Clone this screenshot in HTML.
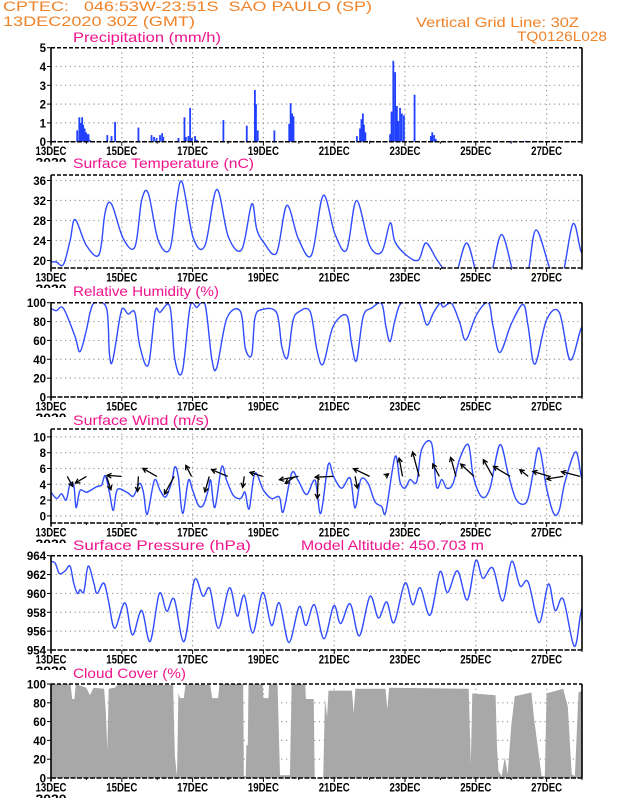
<!DOCTYPE html>
<html><head><meta charset="utf-8">
<style>
html,body{margin:0;padding:0;background:#fff;}
svg{display:block;}
text{font-family:"Liberation Sans",sans-serif;white-space:pre;}
.hdr{fill:#f08228;font-size:13.5px;}
.ttl{fill:#f0148c;font-size:14px;}
.tk{fill:#000;font-size:11.5px;font-weight:bold;}
</style></head>
<body>
<svg id="chart" width="618" height="800" viewBox="0 0 618 800" xmlns="http://www.w3.org/2000/svg">
<text class="hdr" x="3" y="11" xml:space="preserve" textLength="369" lengthAdjust="spacingAndGlyphs">CPTEC:   046:53W-23:51S  SAO PAULO (SP)</text>
<text class="hdr" x="3" y="26" textLength="192" lengthAdjust="spacingAndGlyphs">13DEC2020 30Z (GMT)</text>
<text class="hdr" x="416" y="27" textLength="163" lengthAdjust="spacingAndGlyphs">Vertical Grid Line: 30Z</text>
<text class="hdr" x="517" y="41" textLength="90" lengthAdjust="spacingAndGlyphs">TQ0126L028</text>
<text class="ttl" x="73" y="42" textLength="148" lengthAdjust="spacingAndGlyphs">Precipitation (mm/h)</text>
<text class="ttl" x="73" y="168" textLength="181" lengthAdjust="spacingAndGlyphs">Surface Temperature (nC)</text>
<text class="ttl" x="73" y="296" textLength="146" lengthAdjust="spacingAndGlyphs">Relative Humidity (%)</text>
<text class="ttl" x="73" y="425" textLength="136" lengthAdjust="spacingAndGlyphs">Surface Wind (m/s)</text>
<text class="ttl" x="73" y="550" textLength="178" lengthAdjust="spacingAndGlyphs">Surface Pressure (hPa)</text>
<text class="ttl" x="301" y="550" textLength="183" lengthAdjust="spacingAndGlyphs">Model Altitude: 450.703 m</text>
<text class="ttl" x="73" y="678" textLength="113" lengthAdjust="spacingAndGlyphs">Cloud Cover (%)</text>
</svg>
<script>
// ---- data (time in days since 13DEC 00Z) ----
const dayLabels = ["13DEC","15DEC","17DEC","19DEC","21DEC","23DEC","25DEC","27DEC"];
const precipDays = [0.74,0.80,0.84,0.88,0.91,0.95,0.99,1.03,1.06,1.10,1.59,1.71,1.81,2.09,2.47,2.84,2.91,2.98,3.08,3.14,3.17,3.60,3.77,3.81,3.88,3.93,3.98,4.07,4.12,4.87,5.53,5.76,5.79,5.84,6.31,6.73,6.77,6.81,6.85,8.64,8.73,8.77,8.81,8.84,8.88,9.01,9.58,9.62,9.67,9.72,9.77,9.81,9.86,9.91,9.97,10.27,10.73,10.77,10.82,10.87,0.1,0.5,12.2,12.6,13.0,13.4,13.8];
const precipVals = [0.6,1.3,1.0,1.3,0.9,0.7,0.5,0.4,0.4,0.1,0.35,0.3,1.05,0.05,0.75,0.35,0.25,0.2,0.35,0.45,0.25,0.2,1.3,0.25,0.3,1.8,0.2,0.3,0.1,1.15,0.85,2.75,2.0,0.6,0.6,0.95,2.05,1.5,1.35,0.3,0.7,1.2,1.5,0.9,0.5,0.05,0.4,1.6,4.3,3.7,1.9,1.1,1.8,1.5,1.4,2.5,0.3,0.5,0.35,0.15,0.06,0.04,0.04,0.05,0.04,0.05,0.04];
const tempDays = [0,0.15,0.35,0.54,0.68,1.0,1.36,1.53,1.71,2.04,2.37,2.56,2.75,3.03,3.36,3.55,3.71,4.02,4.35,4.68,5.01,5.39,5.67,5.81,6.0,6.37,6.66,6.99,7.36,7.69,8.02,8.35,8.63,9.0,9.34,9.58,9.72,10.05,10.38,10.59,10.89,11.16,11.41,11.74,12.07,12.4,12.73,13.11,13.44,13.7,14.14,14.43,14.74,14.96,15.1];
const tempVals = [19.7,19.7,19.2,24,28.2,23,21.2,29.7,31.3,24.4,22.7,32,33.4,24,22.3,32,35.6,24.5,23,34.2,24.7,22.2,31.3,26.3,23.7,21.5,31,24.3,21.1,33,25.3,22.1,32,23,21.7,27.5,23.7,21,20.1,23.5,20.3,17.6,16.5,23.5,16.5,16.5,25.2,16.5,16.5,26.1,17.5,16.5,27.3,22.1,20];
const rhDays = [0,0.15,0.35,0.68,0.82,1.0,1.11,1.24,1.57,1.65,1.74,1.95,2.04,2.18,2.37,2.51,2.75,2.94,3.08,3.36,3.5,3.71,3.93,4.12,4.35,4.54,4.68,4.97,5.35,5.49,5.67,5.76,5.95,6.37,6.52,6.68,6.83,6.99,7.32,7.51,7.69,7.97,8.35,8.49,8.63,8.82,9.06,9.34,9.46,9.58,9.72,9.91,10.38,10.61,10.8,10.99,11.08,11.32,11.55,11.72,12.02,12.35,12.49,12.68,13.01,13.34,13.48,13.67,14.0,14.36,14.66,14.96,15.1];
const rhVals = [94,91.5,94,64,48,71,90.5,100,94,46,38.4,85,94,88,89.4,53.5,34,90.5,89.8,95.8,39.4,27,95.8,95,98.6,41,31,83.7,90.8,51.8,44.7,83.7,92.6,89.7,53.5,41.8,80,90,90.8,50,35,74.8,86.5,57,38.7,85.5,94.3,99,74.8,58.9,81.9,100,100,76.6,89,99.6,95.4,99,78.4,60.6,87.2,100,74.8,47.2,78.4,98.2,74.8,34.8,81.9,89.7,39.4,71.3,80];
const windDays = [0,0.16,0.3,0.43,0.54,0.65,0.71,0.82,1.01,1.29,1.43,1.53,1.65,1.76,1.87,2.14,2.33,2.5,2.61,2.72,2.92,3.08,3.24,3.41,3.5,3.6,3.72,3.88,4.0,4.16,4.3,4.44,4.51,4.63,4.82,4.96,5.15,5.36,5.48,5.6,5.76,6.0,6.23,6.45,6.56,6.8,6.98,7.22,7.46,7.62,7.83,7.98,8.21,8.45,8.59,8.75,8.96,9.15,9.34,9.46,9.72,9.86,10.0,10.14,10.33,10.47,10.75,10.89,11.04,11.18,11.36,11.55,11.79,11.93,12.17,12.4,12.68,12.92,13.15,13.44,13.62,13.79,14.0,14.2,14.36,14.52,14.82,14.99,15.1];
const windVals = [3.0,2.2,2.8,2.0,4.1,3.7,1.05,3.2,3.0,3.7,3.9,5.1,3.0,0.7,3.3,3.0,2.5,4.1,3.0,0.2,4.5,3.25,2.4,4.3,6.2,4.9,0.3,4.5,3.25,1.35,1.35,3.25,4.5,1.05,6.2,4.5,2.6,2.2,3.0,0.9,5.4,3.25,2.2,2.4,0.5,5.4,4.5,2.7,4.5,0.3,6.5,5.0,3.5,4.8,1.0,4.6,4.1,1.8,1.2,0.55,7.5,4.3,3.5,4.6,4.3,8.4,9.2,3.7,4.6,3.5,4.1,7.3,9.0,5.0,2.4,3.5,9.0,5.2,2.0,1.8,5.4,8.6,3.5,0.3,0.75,4.3,8.1,4.8,4.5];
const arrowDays = [0.46,1.0,1.57,1.99,2.47,2.99,3.48,3.97,4.47,4.99,5.46,5.98,6.9,6.99,7.55,7.97,8.59,9.0,9.44,9.93,10.4,10.97,11.44,11.95,12.48,12.97,13.48,14.08,14.47,14.94];
const arrowU = [1.35,-2.75,1.08,-3.6,-0.25,-3.5,-2.43,-1.43,-1.08,-4,-0.4,-3.18,-2.5,-4.75,-0.25,-4.5,0.58,-4,0.83,-0.85,-1.65,-1.65,-1.33,-3.33,-2.35,-4.18,-2.08,-4.15,-4.15,-4.58];
const arrowV = [-2.5,-1.65,-3.33,0.25,-3.75,2,-4.43,2.75,-3.9,1.68,-2.75,1,-1.75,-0.83,-5.5,-0.2,-2.93,1.93,0.65,4.58,6.1,3.1,4.75,3.1,4.18,2.5,1.68,1.25,-0.65,1.18];
const presDays = [0,0.12,0.24,0.4,0.54,0.64,0.75,0.82,0.93,1.05,1.21,1.3,1.49,1.62,1.8,2.09,2.3,2.56,2.8,3.06,3.27,3.48,3.76,4.05,4.29,4.49,4.73,5.04,5.26,5.46,5.7,5.98,6.23,6.45,6.72,7.01,7.2,7.44,7.71,7.99,8.18,8.45,8.71,9.01,9.25,9.48,9.69,10.0,10.22,10.43,10.71,10.99,11.2,11.48,11.76,12.0,12.2,12.48,12.76,13.01,13.25,13.48,13.79,14.05,14.24,14.47,14.78,14.96,15.1];
const presVals = [963.4,963.2,962.1,962.4,962.9,961.1,960,960.4,960.2,962.9,961.1,960,961.1,959.3,956.3,959,955.6,958.2,954.9,960,958.1,959.4,954.9,961.4,959.7,960.5,956.3,960.6,957.6,959.8,955.8,960.1,956.6,959,954.8,958.6,956.6,958.8,955.2,958.7,956.8,958.9,955.5,959.7,957.4,959.1,956.9,961.1,958.8,960.6,957.7,962.3,960.1,962.4,959.3,963.5,961.6,962.7,959.2,963.4,960.8,961.2,956.9,961,958.2,959.4,954.4,957.8,960];
const cloudDays = [0,0.55,0.6,0.66,0.7,1.0,1.1,1.2,1.5,1.55,1.59,1.63,1.8,1.9,3.45,3.5,3.56,3.6,3.65,3.75,3.8,4.5,4.55,4.72,4.76,5.43,5.45,5.5,5.52,5.56,5.58,5.98,6.0,6.14,6.16,6.4,6.42,6.47,6.75,6.8,7.18,7.2,7.42,7.45,7.69,7.74,7.8,7.84,8.5,8.55,8.6,9.45,9.5,9.55,11.8,11.86,11.9,12.56,12.6,12.64,12.73,12.82,12.9,13.0,13.1,13.57,13.65,13.86,13.95,14.0,14.47,14.6,14.71,14.8,14.9,15.1];
const cloudVals = [100,100,84,84,100,96,88,96,95,69,30,95,96,100,99,23,2,90,85,85,100,99,85,85,100,100,2,2,35,35,100,100,85,85,100,99,69,3,3,100,100,84,84,0,0,84,65,93,93,69,95,95,73,96,95,15,90,88,33,7,2,22,4,55,87,91,62,2,2,90,95,76,4,2,91,95];

// ---- layout ----
const NS = "http://www.w3.org/2000/svg";
const svg = document.getElementById("chart");
const X0 = 51, X1 = 582, DAYS = 15;
const xs = d => X0 + d * (X1 - X0) / DAYS;
function mk(tag, attrs, parent) {
  const e = document.createElementNS(NS, tag);
  for (const k in attrs) e.setAttribute(k, attrs[k]);
  (parent || svg).appendChild(e);
  return e;
}
const panels = [
  {id:"precip", top:47.7, bot:141.7, min:0, max:5, ticks:[0,1,2,3,4,5]},
  {id:"temp", top:175, bot:268, min:18.5, max:37.1, ticks:[20,24,28,32,36]},
  {id:"rh", top:302.7, bot:397, min:0, max:100, ticks:[0,20,40,60,80,100]},
  {id:"wind", top:429, bot:523, min:-0.9, max:11.0, ticks:[0,2,4,6,8,10]},
  {id:"pressure", top:555.7, bot:650, min:954, max:964, ticks:[954,956,958,960,962,964]},
  {id:"cloud", top:684, bot:778, min:0, max:100, ticks:[0,20,40,60,80,100]}
];
panels.forEach(p => { p.ys = v => p.bot - (v - p.min) * (p.bot - p.top) / (p.max - p.min); });

function drawFrame(p) {
  const g = mk("g", {});
  
  
  const cp = mk("clipPath", {id:"clip-" + p.id}, g);
  mk("rect", {x:X0, y:p.top, width:X1 - X0, height:p.bot - p.top}, cp);
  for (let d = 2; d < DAYS; d += 2) {
    const gl = mk("line", {x1:xs(d), x2:xs(d), y1:p.top, y2:p.bot, stroke:"#999", "stroke-width":1.2, "stroke-dasharray":"1.2 3.5"}, g);
    
    
  }
  p.ticks.forEach(t => {
    const y = p.ys(t);
    if (y > p.top + 1 && y < p.bot - 1) {
      const hl = mk("line", {x1:X0, x2:X1, y1:y, y2:y, stroke:"#999", "stroke-width":1.2, "stroke-dasharray":"1.2 3.5"}, g);
      
      
    }
    mk("line", {x1:X0 - 4, x2:X0, y1:y, y2:y, stroke:"#000", "stroke-width":1}, g);
    const tl = mk("text", {x:X0 - 5, y:y + 4.5, "text-anchor":"end", class:"tk", "font-size":"12.5px"}, g);
    tl.textContent = String(t);
    
    
  });
  return g;
}
function drawBorders(p) {
  const g = mk("g", {});
  
  
  mk("line", {x1:X0, x2:X1, y1:p.top, y2:p.top, stroke:"#000", "stroke-width":1.5, "stroke-dasharray":"4 2"}, g);
  mk("line", {x1:X0, x2:X1, y1:p.bot, y2:p.bot, stroke:"#000", "stroke-width":1.5, "stroke-dasharray":"5 1.5"}, g);
  mk("line", {x1:X0, x2:X0, y1:p.top, y2:p.bot + 3, stroke:"#000", "stroke-width":1.6}, g);
  mk("line", {x1:X1, x2:X1, y1:p.top, y2:p.bot, stroke:"#000", "stroke-width":1.6}, g);
  for (let d = 0; d <= DAYS; d++) {
    mk("line", {x1:xs(d), x2:xs(d), y1:p.bot, y2:p.bot + (d % 2 ? 2 : 4), stroke:"#000", "stroke-width":1}, g);
  }
  dayLabels.forEach((lab, i) => {
    const t = mk("text", {x:xs(i * 2) - 15.5, y:p.bot + 13.5, class:"tk", textLength:31, lengthAdjust:"spacingAndGlyphs"}, g);
    t.textContent = lab;
    
    
  });
  const cpy = mk("clipPath", {id:"yr-" + p.id}, g);
  mk("rect", {x:30, y:p.bot + 16, width:40, height:4}, cpy);
  const yr = mk("text", {x:xs(0) - 15.5, y:p.bot + 25, class:"tk", textLength:31, lengthAdjust:"spacingAndGlyphs", "clip-path":"url(#yr-" + p.id + ")"}, g);
  yr.textContent = "2020";
  
  
}
function smoothPath(days, vals, p) {
  const P = days.map((d, i) => [xs(d), p.ys(vals[i])]);
  let s = "M" + P[0][0].toFixed(1) + "," + P[0][1].toFixed(1);
  for (let i = 0; i < P.length - 1; i++) {
    const p0 = P[Math.max(0, i - 1)], p1 = P[i], p2 = P[i + 1], p3 = P[Math.min(P.length - 1, i + 2)];
    const c1 = [p1[0] + (p2[0] - p0[0]) / 6, p1[1] + (p2[1] - p0[1]) / 6];
    const c2 = [p2[0] - (p3[0] - p1[0]) / 6, p2[1] - (p3[1] - p1[1]) / 6];
    s += "C" + c1.map(v => v.toFixed(1)).join(",") + " " + c2.map(v => v.toFixed(1)).join(",") + " " + p2[0].toFixed(1) + "," + p2[1].toFixed(1);
  }
  return s;
}
function drawLine(p, days, vals, name) {
  const path = mk("path", {d:smoothPath(days, vals, p), fill:"none", stroke:"#2f4cff", "stroke-width":1.4, "clip-path":"url(#clip-" + p.id + ")"});
  
  
}

panels.forEach(drawFrame);

// precipitation bars
{
  const p = panels[0];
  precipDays.forEach((d, i) => {
    const y = p.ys(precipVals[i]);
    const b = mk("rect", {x:xs(d) - 0.9, y:y, width:1.8, height:Math.max(0.6, p.bot - y), fill:"#2140ff"});
    
    
  });
}
drawLine(panels[1], tempDays, tempVals, "temperature-line");
drawLine(panels[2], rhDays, rhVals, "humidity-line");
drawLine(panels[3], windDays, windVals, "wind-speed-line");
// wind arrows (tail anchored at 5 m/s level)
{
  const p = panels[3], SC = 4, yBase = p.ys(5);
  arrowDays.forEach((d, i) => {
    const x0 = xs(d), y0 = yBase;
    const x1 = x0 + arrowU[i] * SC, y1 = y0 - arrowV[i] * SC;
    const ang = Math.atan2(y1 - y0, x1 - x0);
    const h = 5, a = 0.5;
    const g = mk("g", {stroke:"#000", "stroke-width":1.3, fill:"none"});
    
    
    mk("line", {x1:x0, y1:y0, x2:x1, y2:y1}, g);
    mk("polyline", {points:(x1 - h * Math.cos(ang - a)) + "," + (y1 - h * Math.sin(ang - a)) + " " + x1 + "," + y1 + " " + (x1 - h * Math.cos(ang + a)) + "," + (y1 - h * Math.sin(ang + a))}, g);
  });
}
drawLine(panels[4], presDays, presVals, "pressure-line");
// cloud cover area
{
  const p = panels[5];
  let s = "M" + xs(cloudDays[0]) + "," + p.bot;
  cloudDays.forEach((d, i) => { s += "L" + xs(d).toFixed(1) + "," + p.ys(cloudVals[i]).toFixed(1); });
  s += "L" + xs(cloudDays[cloudDays.length - 1]) + "," + p.bot + "Z";
  const a = mk("path", {d:s, fill:"#a8a8a8", "clip-path":"url(#clip-cloud)"});
  
  
}
panels.forEach(drawBorders);
</script>
</body></html>
